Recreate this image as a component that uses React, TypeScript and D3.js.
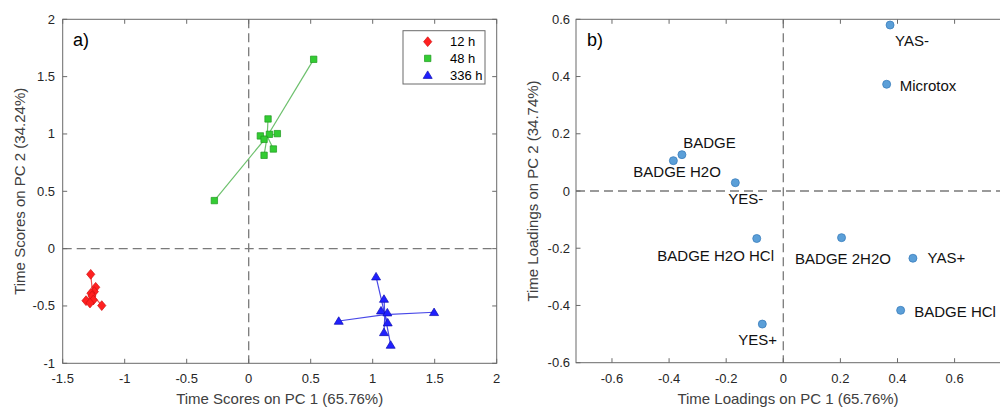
import React from "react";
import * as d3 from "d3";

// ---------- Data ----------
const groupNames = ["12 h", "48 h", "336 h"];
const scores12x = [-1.274, -1.234, -1.245, -1.272, -1.264, -1.312, -1.253, -1.28, -1.185];
const scores12y = [-0.224, -0.337, -0.375, -0.389, -0.413, -0.454, -0.448, -0.474, -0.497];
const scores48x = [-0.277, 0.524, 0.156, 0.094, 0.167, 0.231, 0.124, 0.199, 0.124];
const scores48y = [0.419, 1.651, 1.131, 0.983, 0.997, 1.003, 0.953, 0.869, 0.814];
const scores336x = [1.027, 1.091, 1.067, 1.118, 1.121, 1.091, 1.145, 0.726, 1.495];
const scores336y = [-0.244, -0.439, -0.541, -0.558, -0.645, -0.73, -0.84, -0.631, -0.555];

const loadingNames = ["YAS-", "Microtox", "BADGE", "BADGE H2O", "YES-", "BADGE H2O HCl", "BADGE 2H2O", "YAS+", "BADGE HCl", "YES+"];
const loadingX = [0.374, 0.362, -0.355, -0.385, -0.168, -0.093, 0.204, 0.454, 0.411, -0.0735];
const loadingY = [0.58, 0.373, 0.127, 0.106, 0.029, -0.166, -0.163, -0.235, -0.417, -0.465];

const scoreXTicks = [-1.5, -1, -0.5, 0, 0.5, 1, 1.5, 2];
const scoreYTicks = [-1, -0.5, 0, 0.5, 1, 1.5, 2];
const loadXTicks = [-0.6, -0.4, -0.2, 0, 0.2, 0.4, 0.6];
const loadYTicks = [-0.6, -0.4, -0.2, 0, 0.2, 0.4, 0.6];

// label placement (layout only): dx, dy, anchor
const labelPlacement: [number, number, string][] = [
  [5, 20.5, "start"],
  [13, 6.4, "start"],
  [1.3, -6.4, "start"],
  [3.7, 16.6, "middle"],
  [-7, 21.6, "start"],
  [17.3, 22.4, "end"],
  [1.5, 26.3, "middle"],
  [14.7, 5, "start"],
  [13.6, 6.4, "start"],
  [-4.6, 21, "middle"],
];

const FONT = "'Liberation Sans', Arial, sans-serif";
const AXIS_COLOR = "#6a6a6a";
const TICK_TEXT = "#262626";
const LABEL_TEXT = "#404040";

const fmt = (v: number) => String(Math.round(v * 100) / 100);

type Marker = "diamond" | "square" | "triangle";

function markerPath(kind: Marker): string {
  if (kind === "diamond") return "M0,-4.9 L4.1,0 L0,4.9 L-4.1,0 Z";
  if (kind === "square") return "M-3.2,-3.2 L3.2,-3.2 L3.2,3.2 L-3.2,3.2 Z";
  return "M0,-4.2 L4.5,3.3 L-4.5,3.3 Z";
}

const groupStyle = [
  { marker: "diamond" as Marker, fill: "#ff2020", stroke: "#d01010", line: "#f05050" },
  { marker: "square" as Marker, fill: "#33cc33", stroke: "#1e9a1e", line: "#6cc06c" },
  { marker: "triangle" as Marker, fill: "#2020ff", stroke: "#0c0cb0", line: "#4848e8" },
];

function ScoresPanel() {
  const L = 62.7, R = 496.7, T = 19.3, B = 363.3;
  const x = d3.scaleLinear().domain([-1.5, 2]).range([L, R]);
  const y = d3.scaleLinear().domain([-1, 2]).range([B, T]);
  const groups = [
    { xs: scores12x, ys: scores12y },
    { xs: scores48x, ys: scores48y },
    { xs: scores336x, ys: scores336y },
  ];
  const tl = 4.5;
  return (
    <g>
      <rect x={L} y={T} width={R - L} height={B - T} fill="white" />
      <line x1={x(0)} x2={x(0)} y1={T} y2={B} stroke="#7a7a7a" strokeWidth={1.3} strokeDasharray="9,5" />
      <line x1={L} x2={R} y1={y(0)} y2={y(0)} stroke="#7a7a7a" strokeWidth={1.3} strokeDasharray="9,5" />
      {groups.map((g, gi) => {
        const cx = d3.mean(g.xs) as number;
        const cy = d3.mean(g.ys) as number;
        return (
          <g key={"l" + gi}>
            {g.xs.map((vx, i) => (
              <line key={i} x1={x(cx)} y1={y(cy)} x2={x(vx)} y2={y(g.ys[i])} stroke={groupStyle[gi].line} strokeWidth={1.2} />
            ))}
          </g>
        );
      })}
      {groups.map((g, gi) => (
        <g key={"m" + gi}>
          {g.xs.map((vx, i) => (
            <path key={i} d={markerPath(groupStyle[gi].marker)} transform={`translate(${x(vx)},${y(g.ys[i])})`} fill={groupStyle[gi].fill} stroke={groupStyle[gi].stroke} strokeWidth={0.7} />
          ))}
        </g>
      ))}
      <rect x={L} y={T} width={R - L} height={B - T} fill="none" stroke={AXIS_COLOR} strokeWidth={1} />
      {scoreXTicks.map((t) => (
        <g key={"xt" + t}>
          <line x1={x(t)} x2={x(t)} y1={B} y2={B - tl} stroke={AXIS_COLOR} />
          <line x1={x(t)} x2={x(t)} y1={T} y2={T + tl} stroke={AXIS_COLOR} />
          <text x={x(t)} y={383} textAnchor="middle" fontSize={13} fill={TICK_TEXT} fontFamily={FONT}>{fmt(t)}</text>
        </g>
      ))}
      {scoreYTicks.map((t) => (
        <g key={"yt" + t}>
          <line x1={L} x2={L + tl} y1={y(t)} y2={y(t)} stroke={AXIS_COLOR} />
          <line x1={R} x2={R - tl} y1={y(t)} y2={y(t)} stroke={AXIS_COLOR} />
          <text x={55} y={y(t) + 4.5} textAnchor="end" fontSize={13} fill={TICK_TEXT} fontFamily={FONT}>{fmt(t)}</text>
        </g>
      ))}
      <text x={(L + R) / 2} y={404} textAnchor="middle" fontSize={15} fill={LABEL_TEXT} fontFamily={FONT}>Time Scores on PC 1 (65.76%)</text>
      <text transform={`translate(25,${(T + B) / 2}) rotate(-90)`} textAnchor="middle" fontSize={15} fill={LABEL_TEXT} fontFamily={FONT}>Time Scores on PC 2 (34.24%)</text>
      <text x={73} y={46} fontSize={18} fill="#000" fontFamily={FONT}>a)</text>
      <rect x={403} y={30.7} width={82} height={53.3} fill="white" stroke="#6a6a6a" strokeWidth={1} />
      {groupNames.map((n, i) => (
        <g key={n}>
          <path d={markerPath(groupStyle[i].marker)} transform={`translate(427.7,${41.7 + i * 16.7})`} fill={groupStyle[i].fill} stroke={groupStyle[i].stroke} strokeWidth={0.7} />
          <text x={450} y={41.7 + i * 16.7 + 4.5} fontSize={13} fill="#000" fontFamily={FONT}>{n}</text>
        </g>
      ))}
    </g>
  );
}

function LoadingsPanel() {
  const L = 576, R = 1006, T = 19.3, B = 362.7;
  const x = d3.scaleLinear().domain([-0.726, 0.78]).range([L, R]);
  const y = d3.scaleLinear().domain([-0.6, 0.6]).range([B, T]);
  const tl = 4.5;
  return (
    <g>
      <rect x={L} y={T} width={R - L} height={B - T} fill="white" />
      <line x1={x(0)} x2={x(0)} y1={T} y2={B} stroke="#7a7a7a" strokeWidth={1.3} strokeDasharray="9,5" />
      <line x1={L} x2={R} y1={y(0)} y2={y(0)} stroke="#7a7a7a" strokeWidth={1.3} strokeDasharray="9,5" />
      {loadingNames.map((n, i) => (
        <circle key={"c" + n} cx={x(loadingX[i])} cy={y(loadingY[i])} r={4} fill="#5b9fd8" stroke="#3a7dbd" strokeWidth={0.8} />
      ))}
      {loadingNames.map((n, i) => (
        <text key={"t" + n} x={x(loadingX[i]) + labelPlacement[i][0]} y={y(loadingY[i]) + labelPlacement[i][1]} textAnchor={labelPlacement[i][2] as any} fontSize={15} fill="#111" fontFamily={FONT}>{n}</text>
      ))}
      <rect x={L} y={T} width={R - L} height={B - T} fill="none" stroke={AXIS_COLOR} strokeWidth={1} />
      {loadXTicks.map((t) => (
        <g key={"xt" + t}>
          <line x1={x(t)} x2={x(t)} y1={B} y2={B - tl} stroke={AXIS_COLOR} />
          <line x1={x(t)} x2={x(t)} y1={T} y2={T + tl} stroke={AXIS_COLOR} />
          <text x={x(t)} y={383} textAnchor="middle" fontSize={13} fill={TICK_TEXT} fontFamily={FONT}>{fmt(t)}</text>
        </g>
      ))}
      {loadYTicks.map((t) => (
        <g key={"yt" + t}>
          <line x1={L} x2={L + tl} y1={y(t)} y2={y(t)} stroke={AXIS_COLOR} />
          <text x={570} y={y(t) + 4.5} textAnchor="end" fontSize={13} fill={TICK_TEXT} fontFamily={FONT}>{fmt(t)}</text>
        </g>
      ))}
      <text x={788} y={404} textAnchor="middle" fontSize={15} fill={LABEL_TEXT} fontFamily={FONT}>Time Loadings on PC 1 (65.76%)</text>
      <text transform={`translate(538,${(T + B) / 2}) rotate(-90)`} textAnchor="middle" fontSize={15} fill={LABEL_TEXT} fontFamily={FONT}>Time Loadings on PC 2 (34.74%)</text>
      <text x={587} y={46} fontSize={18} fill="#000" fontFamily={FONT}>b)</text>
    </g>
  );
}

export default function App() {
  return (
    <div style={{ position: "absolute", left: 0, top: 0, width: 1000, height: 407, overflow: "hidden", background: "white" }}>
      <svg width={1000} height={407} style={{ display: "block" }}>
        <rect x={0} y={0} width={1000} height={407} fill="white" />
        <ScoresPanel />
        <LoadingsPanel />
      </svg>
    </div>
  );
}
